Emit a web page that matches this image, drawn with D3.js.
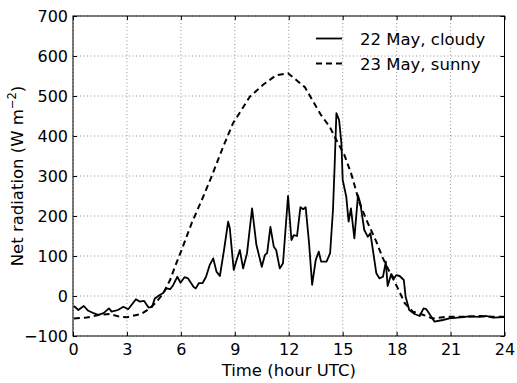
<!DOCTYPE html>
<html>
<head>
<meta charset="utf-8">
<script src="https://cdn.jsdelivr.net/npm/d3@7"></script>
<style>
  html, body { margin: 0; padding: 0; background: #fff; }
  svg { display: block; }
  text { font-family: "DejaVu Sans", sans-serif; fill: #000; }
</style>
</head>
<body>
<svg id="chart" width="517" height="383"></svg>
<script>
// ---- data ----
const xTicks = [0, 3, 6, 9, 12, 15, 18, 21, 24];
const yTicks = [-100, 0, 100, 200, 300, 400, 500, 600, 700];

const cloudyHours = [0.05, 0.3, 0.6, 0.85, 1.1, 1.4, 1.7, 2.0, 2.15, 2.5, 2.8, 3.07, 3.5, 3.7, 3.95, 4.2, 4.4, 4.55, 4.8, 5.0,
  5.2, 5.4, 5.57, 5.8, 5.98, 6.2, 6.4, 6.7, 6.83, 7.0, 7.2, 7.4, 7.6, 7.8, 7.98, 8.17, 8.4, 8.63, 8.72, 8.94,
  9.1, 9.28, 9.46, 9.68, 9.96, 10.2, 10.5, 10.67, 10.8, 10.98, 11.17, 11.3, 11.5, 11.68, 11.96, 12.15, 12.28, 12.46, 12.65, 12.8,
  12.94, 13.13, 13.3, 13.5, 13.67, 13.8, 14.1, 14.3, 14.46, 14.55, 14.65, 14.8, 14.93, 15.0, 15.2, 15.33, 15.46, 15.65, 15.85, 15.98,
  16.2, 16.4, 16.54, 16.68, 16.87, 17.05, 17.24, 17.4, 17.5, 17.7, 17.85, 17.98, 18.17, 18.4, 18.5, 18.7, 19.0, 19.28, 19.5, 19.65,
  19.93, 20.1, 20.57, 20.94, 21.7, 22.0, 22.6, 23.0, 23.35, 24.0];
const cloudyValues = [-25, -35, -25, -37, -42, -47, -43, -31, -39, -35, -27, -33, -8, -14, -12, -29, -27, -6, 2, 7,
  19, 17, 27, 48, 33, 47, 44, 23, 19, 32, 32, 48, 77, 94, 61, 50, 115, 186, 170, 65,
  90, 115, 69, 107, 219, 128, 73, 102, 108, 173, 123, 115, 69, 82, 250, 140, 152, 150, 222, 217,
  222, 132, 28, 90, 111, 86, 86, 107, 215, 323, 457, 440, 382, 290, 248, 186, 219, 144, 252, 232,
  165, 148, 157, 115, 57, 44, 48, 86, 25, 55, 44, 52, 50, 40, -2, -35, -45, -50, -31, -33,
  -52, -64, -60, -56, -53, -51, -52, -50, -54, -53];

const sunnyHours = [0.05, 0.76, 1.5, 2.05, 2.6, 3.0, 3.8, 4.28, 4.65, 5.0, 5.4, 5.67, 6.04, 6.6, 7.24, 7.7, 8.35, 8.9, 9.37, 9.83,
  10.57, 11.3, 11.96, 12.9, 13.26, 13.8, 14.28, 14.65, 15.1, 15.48, 15.94, 16.4, 16.87, 17.24, 17.7, 18.07, 18.45, 18.9, 19.46, 20.0,
  20.76, 21.7, 22.6, 23.3, 24.0];
const sunnyValues = [-56, -54, -47, -45, -52, -53, -45, -31, -14, 5, 40, 73, 115, 182, 248, 298, 373, 432, 465, 498,
  528, 552, 557, 522, 494, 452, 423, 390, 352, 305, 232, 182, 136, 94, 52, 19, -18, -39, -47, -56,
  -52, -52, -50, -52, -52];

const seriesNames = ["22 May, cloudy", "23 May, sunny"];

// ---- layout ----
const svg = d3.select("#chart");
const L = 73, R = 504.5, T = 16, B = 336;
const x = d3.scaleLinear().domain([0, 24]).range([L, R]);
const y = d3.scaleLinear().domain([-100, 700]).range([B, T]);

// grid
const grid = svg.append("g");
grid.selectAll("line.vx").data(xTicks).join("line")
  .attr("x1", d => x(d)).attr("x2", d => x(d)).attr("y1", T).attr("y2", B)
  .attr("stroke", "#777").attr("stroke-width", 0.8).attr("stroke-dasharray", "1,2.5");
grid.selectAll("line.hy").data(yTicks).join("line")
  .attr("y1", d => y(d)).attr("y2", d => y(d)).attr("x1", L).attr("x2", R)
  .attr("stroke", "#777").attr("stroke-width", 0.8).attr("stroke-dasharray", "1,2.5");

// lines
const cloudy = cloudyHours.map((h, i) => [h, cloudyValues[i]]);
const sunny = sunnyHours.map((h, i) => [h, sunnyValues[i]]);
const line = d3.line().x(d => x(d[0])).y(d => y(d[1]));

svg.append("path").datum(sunny).attr("d", line)
  .attr("fill", "none").attr("stroke", "#000").attr("stroke-width", 2)
  .attr("stroke-dasharray", "6,4");
svg.append("path").datum(cloudy).attr("d", line)
  .attr("fill", "none").attr("stroke", "#000").attr("stroke-width", 1.8)
  .attr("stroke-linejoin", "round");

// axes (ticks inward)
const tickSize = 4;
const xAxisB = svg.append("g").attr("transform", `translate(0,${B})`)
  .call(d3.axisBottom(x).tickValues(xTicks).tickSize(-tickSize).tickPadding(8).tickFormat(d3.format("d")));
const xAxisT = svg.append("g").attr("transform", `translate(0,${T})`)
  .call(d3.axisTop(x).tickValues(xTicks).tickSize(-tickSize).tickFormat(""));
const yAxisL = svg.append("g").attr("transform", `translate(${L},0)`)
  .call(d3.axisLeft(y).tickValues(yTicks).tickSize(-tickSize).tickPadding(5).tickFormat(d3.format("d")));
const yAxisR = svg.append("g").attr("transform", `translate(${R},0)`)
  .call(d3.axisRight(y).tickValues(yTicks).tickSize(-tickSize).tickFormat(""));

[xAxisB, xAxisT, yAxisL, yAxisR].forEach(g => {
  g.select(".domain").remove();
  g.selectAll(".tick line").attr("stroke", "#000").attr("stroke-width", 1);
  g.selectAll("text").attr("font-family", "DejaVu Sans").attr("font-size", 16).attr("fill", "#000");
});
xAxisB.selectAll("text").attr("dy", "0.71em");

// frame
svg.append("rect").attr("x", L).attr("y", T).attr("width", R - L).attr("height", B - T)
  .attr("fill", "none").attr("stroke", "#000").attr("stroke-width", 1);

// axis labels
svg.append("text").attr("x", (L + R) / 2).attr("y", 376).attr("text-anchor", "middle")
  .attr("font-size", 16.5).text("Time (hour UTC)");

const yl = svg.append("text").attr("transform", `translate(23,${(T + B) / 2}) rotate(-90)`)
  .attr("text-anchor", "middle").attr("font-size", 16.5);
yl.append("tspan").text("Net radiation (W m");
yl.append("tspan").attr("font-size", 11.5).attr("dy", -7).text("\u22122");
yl.append("tspan").attr("dy", 7).text(")");

// legend
const leg = svg.append("g");
const legY = [38.5, 63.5];
leg.append("line").attr("x1", 316).attr("x2", 342).attr("y1", legY[0]).attr("y2", legY[0])
  .attr("stroke", "#000").attr("stroke-width", 1.8);
leg.append("line").attr("x1", 316).attr("x2", 342).attr("y1", legY[1]).attr("y2", legY[1])
  .attr("stroke", "#000").attr("stroke-width", 2).attr("stroke-dasharray", "6,4");
seriesNames.forEach((n, i) => {
  leg.append("text").attr("x", 360).attr("y", legY[i] + 6.5).attr("font-size", 16.5).text(n);
});
</script>
</body>
</html>
